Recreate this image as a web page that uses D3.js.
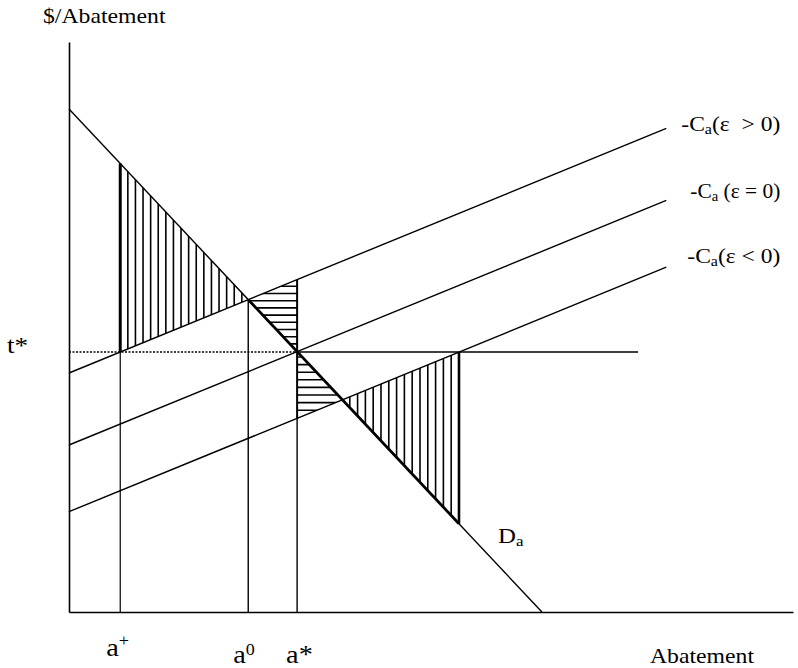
<!DOCTYPE html>
<html><head><meta charset="utf-8">
<script src="https://cdn.jsdelivr.net/npm/d3@7"></script>
<style>
body{margin:0;background:#fff}
text{font-family:"Liberation Serif","Times New Roman",serif;fill:#000;white-space:pre}
</style>
</head><body><svg id="chart" width="798" height="668"></svg>
<script>
// ---- data (abstract units) ----
const abatementDomain = [0, 100];
const dollarDomain = [0, 100];
const demandIntercept = 88.25;
const demandSlope = -1.351;
const costSlope = 0.52;
const costIntercepts = [41.93, 29.3, 17.6];
const costLabelTails = ["(\u03b5  > 0)", " (\u03b5 = 0)", "(\u03b5 < 0)"];
const costEnd = 82.5;
const tStar = 45.61;
const tStarEnd = 78.6;
const tickNames = ["a", "a", "a"];
const tickMarks = ["+", "0", "*"];
const axisTitles = ["$/Abatement", "Abatement"];

// ---- layout ----
const W = 798, H = 668;
const m = {left: 69, right: 5, top: 42, bottom: 56};
const svg = d3.select("#chart");
const x = d3.scaleLinear().domain(abatementDomain).range([m.left, W - m.right]);
const y = d3.scaleLinear().domain(dollarDomain).range([H - m.bottom, m.top]);
const STRETCH = 1.13;

const D = a => demandIntercept + demandSlope * a;
const C = (i, a) => costIntercepts[i] + costSlope * a;

const aPlus = (tStar - costIntercepts[0]) / costSlope;
const a0 = (demandIntercept - costIntercepts[0]) / (costSlope - demandSlope);
const aStar = (demandIntercept - costIntercepts[1]) / (costSlope - demandSlope);
const aLow = (demandIntercept - costIntercepts[2]) / (costSlope - demandSlope);
const aRight = (tStar - costIntercepts[2]) / costSlope;
const aZero = -demandIntercept / demandSlope;

const line = d3.line().x(d => x(d[0])).y(d => y(d[1]));
function seg(pts, w, dash) {
  const p = svg.append("path").attr("d", line(pts)).attr("fill", "none")
    .attr("stroke", "#000").attr("stroke-width", w);
  if (dash) p.attr("stroke-dasharray", dash);
  return p;
}

// ---- hatching (clipped to triangles) ----
const triangles = [
  {pts: [[aPlus, D(aPlus)], [aPlus, tStar], [a0, D(a0)]], dir: "v", start: aPlus, step: 7.6},
  {pts: [[a0, D(a0)], [aStar, C(0, aStar)], [aStar, D(aStar)]], dir: "h", step: 7.2},
  {pts: [[aStar, D(aStar)], [aStar, C(2, aStar)], [aLow, D(aLow)]], dir: "h", step: 7.6},
  {pts: [[aLow, D(aLow)], [aRight, tStar], [aRight, D(aRight)]], dir: "v", start: aRight, step: -7.8}
];
const defs = svg.append("defs");
triangles.forEach((t, i) => {
  defs.append("clipPath").attr("id", "tri" + i)
    .append("path").attr("d", line(t.pts) + "Z");
  const px = t.pts.map(p => x(p[0])), py = t.pts.map(p => y(p[1]));
  const x0 = d3.min(px), x1 = d3.max(px), y0 = d3.min(py), y1 = d3.max(py);
  const g = svg.append("g").attr("clip-path", `url(#tri${i})`);
  if (t.dir === "v") {
    const s = x(t.start);
    const xs = t.step > 0 ? d3.range(s, x1 + 0.1, t.step) : d3.range(s, x0 - 0.1, t.step);
    g.selectAll("line").data(xs).join("line")
      .attr("x1", d => d).attr("x2", d => d).attr("y1", y0 - 2).attr("y2", y1 + 2)
      .attr("stroke", "#000").attr("stroke-width", 1.6);
  } else {
    const ys = d3.range(y1 - 0.5, y0, -t.step);
    g.selectAll("line").data(ys).join("line")
      .attr("y1", d => d).attr("y2", d => d).attr("x1", x0 - 2).attr("x2", x1 + 2)
      .attr("stroke", "#000").attr("stroke-width", 1.6);
  }
});

// ---- axes ----
svg.append("g").attr("transform", `translate(${m.left},0)`)
  .call(d3.axisLeft(y).tickValues([]).tickSizeOuter(0))
  .select(".domain").attr("stroke-width", 1.6);
svg.append("g").attr("transform", `translate(0,${H - m.bottom})`)
  .call(d3.axisBottom(x).tickValues([]).tickSizeOuter(0))
  .select(".domain").attr("stroke-width", 1.6);

// ---- curves ----
seg([[0, demandIntercept], [aZero, 0]], 1.4);
costIntercepts.forEach((c, i) => seg([[0, C(i, 0)], [costEnd, C(i, costEnd)]], 1.4));

// t* line
seg([[0, tStar], [aStar, tStar]], 1.5, "2,1.5");
seg([[aStar, tStar], [tStarEnd, tStar]], 1.4);

// verticals
seg([[aPlus, 0], [aPlus, tStar]], 1.2);
seg([[aPlus, tStar], [aPlus, D(aPlus)]], 3);
seg([[a0, 0], [a0, D(a0)]], 1.4);
seg([[aStar, 0], [aStar, C(2, aStar)]], 1.4);
seg([[aStar, C(2, aStar)], [aStar, C(0, aStar)]], 2);
seg([[aRight, tStar], [aRight, D(aRight)]], 2.6);
// bold demand segment
seg([[a0, D(a0)], [aRight, D(aRight)]], 2.8);

// ---- labels ----
function label(px, py, size) {
  return svg.append("g").attr("transform", `translate(${px},${py}) scale(${STRETCH},1)`)
    .append("text").attr("font-size", size);
}
function fitLabel(px, py, size, len) {
  return svg.append("text").attr("x", px).attr("y", py).attr("font-size", size)
    .attr("textLength", len).attr("lengthAdjust", "spacingAndGlyphs");
}
label(43, 23, 21).text(axisTitles[0]);
label(650, 663, 21).text(axisTitles[1]);
label(7, 353, 24).text("t*");

const tickVals = [aPlus, a0, aStar];
const tickDx = [-14, -15, -11];
const tickBase = [656, 663, 663];
tickVals.forEach((v, i) => {
  const t = label(x(v) + tickDx[i], tickBase[i], 25);
  t.append("tspan").text(tickNames[i]);
  if (tickMarks[i] === "*") t.append("tspan").text(tickMarks[i]);
  else t.append("tspan").attr("font-size", 16).attr("dy", i === 0 ? -10 : -8).text(tickMarks[i]);
});

const dl = label(x(aZero) - 44, 543, 22);
dl.append("tspan").text("D");
dl.append("tspan").attr("font-size", 15).attr("dy", 3).text("a");

const cDx = [15, 24, 21];
const cBase = [131, 198, 263];
const cLen = [99, 90, 93];
costIntercepts.forEach((c, i) => {
  const t = fitLabel(x(costEnd) + cDx[i], cBase[i], 22, cLen[i]);
  t.append("tspan").text("-C");
  t.append("tspan").attr("font-size", 15).attr("dy", 3).text("a");
  t.append("tspan").attr("dy", -3).text(costLabelTails[i]);
});
</script>
</body></html>
